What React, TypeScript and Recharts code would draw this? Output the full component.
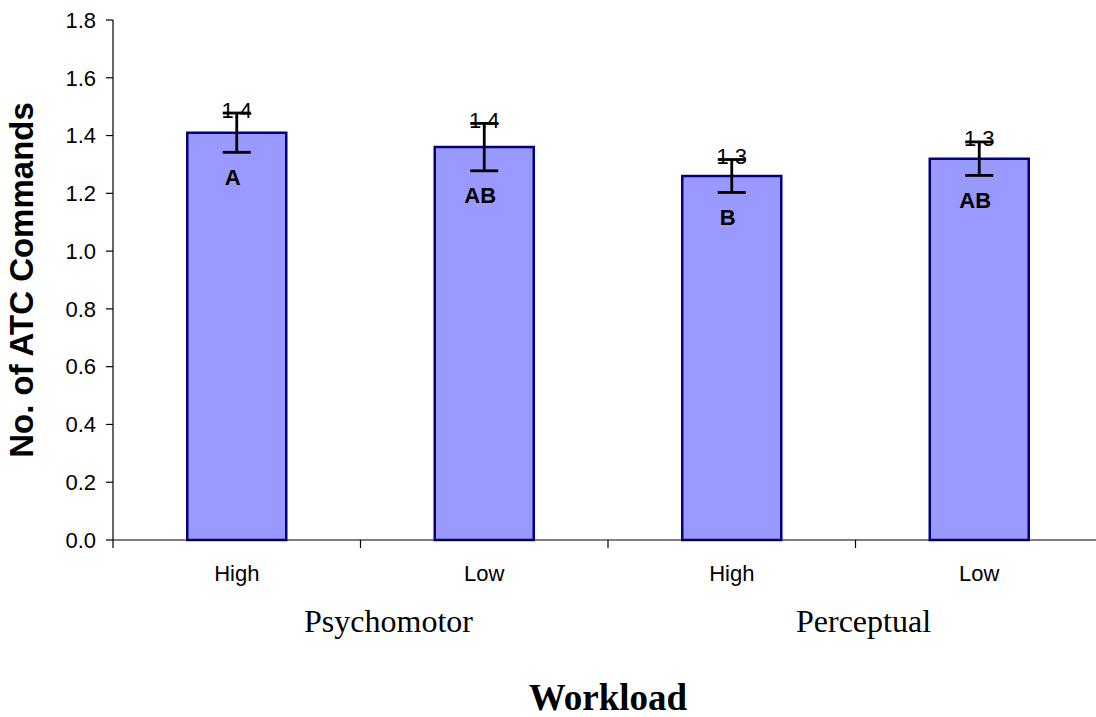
import React from 'react';
import { BarChart, Bar, XAxis, YAxis, ErrorBar, LabelList } from 'recharts';

const levels = ['High', 'Low', 'High', 'Low'];
const groups = ['Psychomotor', 'Psychomotor', 'Perceptual', 'Perceptual'];
const means = [1.41, 1.36, 1.26, 1.32];
const errors = [0.068, 0.082, 0.057, 0.058];
const letters = ['A', 'AB', 'B', 'AB'];
const yTicks = [0, 0.2, 0.4, 0.6, 0.8, 1.0, 1.2, 1.4, 1.6, 1.8];

const data = levels.map((level, i) => ({
  level,
  group: groups[i],
  mean: means[i],
  err: errors[i],
  letter: letters[i],
}));

const SANS = 'Arial, "Liberation Sans", sans-serif';
const SERIF = '"Times New Roman", "Liberation Serif", serif';

const ValueLabel = (props: any) => {
  const vb = props.viewBox || {};
  const x = props.x ?? vb.x;
  const y = props.y ?? vb.y;
  const width = props.width ?? vb.width;
  const height = props.height ?? vb.height;
  const index = props.index;
  const value = means[index];
  const ppu = height / value;
  const errTop = y - errors[index] * ppu;
  return (
    <text
      x={x + width / 2}
      y={errTop - 3}
      textAnchor="middle"
      dominantBaseline="central"
      fontFamily={SANS}
      fontSize={22}
      fill="#000"
    >
      {value.toFixed(1)}
    </text>
  );
};

const LetterLabel = (props: any) => {
  const vb = props.viewBox || {};
  const x = props.x ?? vb.x;
  const y = props.y ?? vb.y;
  const width = props.width ?? vb.width;
  const height = props.height ?? vb.height;
  const index = props.index;
  const value = means[index];
  const ppu = height / value;
  const errBottom = y + errors[index] * ppu;
  return (
    <text
      x={x + width / 2 - 4}
      y={errBottom + 25}
      textAnchor="middle"
      dominantBaseline="central"
      fontFamily={SANS}
      fontSize={22}
      fontWeight="bold"
      fill="#000"
    >
      {letters[index]}
    </text>
  );
};

const GroupTick = (props: any) => {
  const { x, y, payload, index } = props;
  const shift = index === 0 ? 28 : 8;
  return (
    <text
      x={x + shift}
      y={y + 42}
      textAnchor="middle"
      fontFamily={SERIF}
      fontSize={32}
      fill="#000"
    >
      {payload.value}
    </text>
  );
};

// Tick marks at category boundaries (Excel style), computed from axis width / count
const BoundaryTick = (props: any) => {
  const { x, y, width, visibleTicksCount, index } = props;
  const count = visibleTicksCount || levels.length;
  const half = typeof width === 'number' ? width / count / 2 : 0;
  const lines = [x - half];
  if (index === count - 1) lines.push(x + half);
  return (
    <g>
      {lines.map((lx, k) => (
        <line key={k} x1={lx} x2={lx} y1={y} y2={y + 8} stroke="#000" strokeWidth={1.2} />
      ))}
    </g>
  );
};

export default function App() {
  return (
    <div style={{ position: 'absolute', left: 0, top: 0, background: '#fff' }}>
      <BarChart
        width={1096}
        height={717}
        data={data}
        margin={{ top: 20, right: -7, left: 0, bottom: 0 }}
        barCategoryGap="30%"
      >
        <XAxis
          xAxisId="a_frame"
          dataKey="level"
          height={1}
          tick={<BoundaryTick />}
          tickLine={false}
          tickSize={0}
          tickMargin={0}
          stroke="#000"
          axisLine={{ stroke: '#000', strokeWidth: 1.2 }}
        />
        <XAxis
          xAxisId="b_cat"
          dataKey="level"
          height={49}
          axisLine={false}
          tickLine={false}
          tickSize={0}
          tickMargin={24}
          tick={{ fontFamily: SANS, fontSize: 22, fill: '#000' }}
        />
        <XAxis
          xAxisId="c_group"
          dataKey="group"
          allowDuplicatedCategory={false}
          height={127}
          axisLine={false}
          tickLine={false}
          tickSize={0}
          tickMargin={0}
          tick={<GroupTick />}
          label={{
            value: 'Workload',
            position: 'insideBottom',
            offset: 7,
            style: { fontFamily: SERIF, fontSize: 37, fontWeight: 'bold', fill: '#000' },
          }}
        />
        <YAxis
          width={113}
          domain={[0, 1.8]}
          ticks={yTicks}
          tickFormatter={(v: number) => v.toFixed(1)}
          tickSize={7}
          tickMargin={10}
          stroke="#000"
          axisLine={{ stroke: '#000', strokeWidth: 1.2 }}
          tickLine={{ stroke: '#000', strokeWidth: 1.2 }}
          tick={{ fontFamily: SANS, fontSize: 22, fill: '#000' }}
          label={{
            value: 'No. of ATC Commands',
            angle: -90,
            position: 'insideLeft',
            offset: 21,
            style: { textAnchor: 'middle', fontFamily: SANS, fontSize: 33, fontWeight: 'bold', fill: '#000' },
          }}
        />
        <Bar
          xAxisId="b_cat"
          dataKey="mean"
          fill="#9999FF"
          stroke="#000080"
          strokeWidth={2.5}
          isAnimationActive={false}
        >
          <ErrorBar dataKey="err" width={14} stroke="#000" strokeWidth={2.8} isAnimationActive={false} />
          <LabelList dataKey="mean" content={<ValueLabel />} />
          <LabelList dataKey="letter" content={<LetterLabel />} />
        </Bar>
      </BarChart>
    </div>
  );
}
